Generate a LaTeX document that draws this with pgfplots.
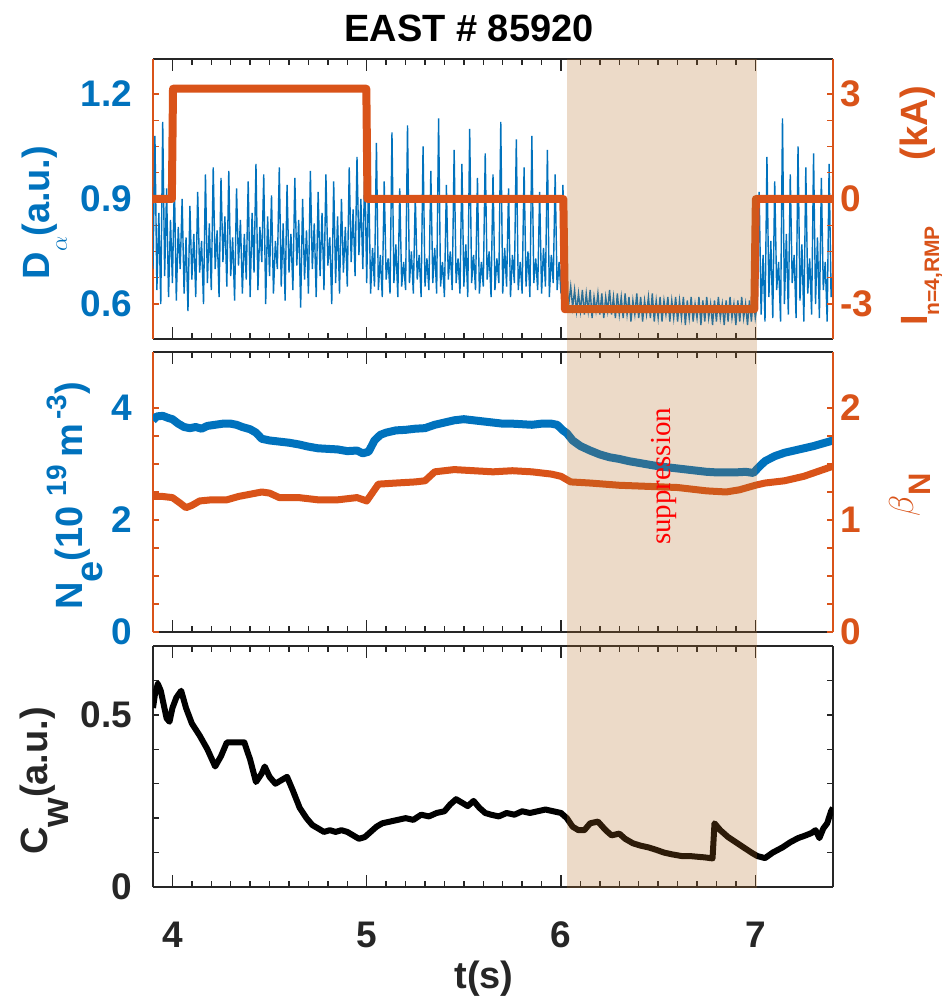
\documentclass[border=0pt]{standalone}
\usepackage{fontspec}
\setmainfont{Liberation Sans}
\newfontfamily\seriffont{Liberation Serif}
\usepackage{pgfplots}
\pgfplotsset{compat=1.18}
\definecolor{myblue}{RGB}{0,114,189}
\definecolor{myorange}{RGB}{217,83,25}
\definecolor{axgray}{RGB}{38,38,38}
\definecolor{shadecol}{RGB}{180,108,36}
\newcommand\tickfont{\fontsize{18.5}{18.5}\selectfont\bfseries}
\newcommand\labfont{\fontsize{19}{19}\selectfont\bfseries}
\pgfplotsset{
  base/.style={scale only axis, width=340pt, xmin=3.9, xmax=7.4,
    tick align=inside, /pgf/number format/assume math mode=true,
    ticklabel style={font=\tickfont}},
  xframe/.style={base, axis y line=none, axis x line=box, ymin=0, ymax=1,
    xtick={4,5,6,7}, minor x tick num=9, major tick length=6pt, minor tick length=3pt,
    x axis line style={draw=axgray, line width=1pt},
    tick style={draw=axgray, line width=0.7pt}},
  yleft/.style={base, axis x line=none, axis y line*=left, major tick length=3pt,
    minor tick length=3pt, yticklabel style={xshift=-7pt}},
  yright/.style={base, axis x line=none, axis y line*=right, major tick length=3pt,
    minor tick length=3pt},
}
\begin{document}
\begin{tikzpicture}
\useasboundingbox (-76.5pt,-56pt) rectangle (394pt,443.5pt);
% ================= TOP PANEL =================
\begin{axis}[xframe, height=140pt, at={(0,274pt)}, anchor=south west, xticklabels={}]
\end{axis}
\begin{axis}[yleft, height=140pt, at={(0,274pt)}, anchor=south west,
  ymin=0.5, ymax=1.3, ytick={0.6,0.9,1.2}, minor y tick num=3,
  y axis line style={draw=myorange, line width=1pt},
  tick style={draw=myorange, line width=0.7pt},
  yticklabel style={text=myblue}]
\addplot[myblue, line width=0.7pt] coordinates {
(3.90,0.70)(3.91,1.08)(3.92,0.64)(3.93,0.86)(3.94,0.60)(3.95,1.12)(3.96,0.68)(3.97,0.93)(3.98,0.62)(3.99,0.84)
(4.00,0.66)(4.01,0.95)(4.02,0.61)(4.03,0.82)(4.04,0.70)(4.05,0.90)(4.06,0.63)(4.07,0.79)(4.08,0.58)(4.09,0.88)
(4.10,0.67)(4.11,0.80)(4.12,0.62)(4.13,0.92)(4.14,0.69)(4.15,0.78)(4.16,0.60)(4.17,0.97)(4.18,0.66)(4.19,0.83)
(4.20,0.64)(4.21,0.99)(4.22,0.70)(4.23,0.81)(4.24,0.62)(4.25,0.96)(4.26,0.72)(4.27,0.85)(4.28,0.65)(4.29,0.98)
(4.30,0.68)(4.31,0.79)(4.32,0.61)(4.33,0.93)(4.34,0.71)(4.35,0.84)(4.36,0.63)(4.37,0.80)(4.38,0.67)(4.39,0.95)
(4.40,0.62)(4.41,0.86)(4.42,0.69)(4.43,1.00)(4.44,0.64)(4.45,0.82)(4.46,0.72)(4.47,0.97)(4.48,0.60)(4.49,0.85)
(4.50,0.68)(4.51,0.91)(4.52,0.63)(4.53,0.78)(4.54,0.70)(4.55,0.99)(4.56,0.65)(4.57,0.83)(4.58,0.61)(4.59,0.94)
(4.60,0.69)(4.61,0.80)(4.62,0.64)(4.63,0.96)(4.64,0.71)(4.65,0.84)(4.66,0.59)(4.67,0.90)(4.68,0.67)(4.69,0.81)
(4.70,0.63)(4.71,0.98)(4.72,0.70)(4.73,0.83)(4.74,0.62)(4.75,0.92)(4.76,0.68)(4.77,0.86)(4.78,0.64)(4.79,0.97)
(4.80,0.71)(4.81,0.79)(4.82,0.60)(4.83,0.95)(4.84,0.66)(4.85,0.85)(4.86,0.63)(4.87,0.90)(4.88,0.69)(4.89,0.82)
(4.90,0.65)(4.91,0.99)(4.92,0.72)(4.93,0.87)(4.94,0.68)(4.95,1.02)(4.96,0.74)(4.97,0.90)(4.98,0.70)(4.99,1.00)
(5.00,0.66)(5.01,0.97)(5.02,0.63)(5.03,0.76)(5.04,0.65)(5.05,1.06)(5.06,0.64)(5.07,0.74)(5.08,0.62)(5.09,0.95)
(5.10,0.67)(5.11,0.73)(5.12,0.63)(5.13,1.09)(5.14,0.66)(5.15,0.77)(5.16,0.62)(5.17,0.93)(5.18,0.65)(5.19,0.72)
(5.20,0.64)(5.21,1.11)(5.22,0.66)(5.23,0.75)(5.24,0.63)(5.25,0.91)(5.26,0.67)(5.27,0.74)(5.28,0.62)(5.29,1.05)
(5.30,0.65)(5.31,0.73)(5.32,0.64)(5.33,0.98)(5.34,0.66)(5.35,0.76)(5.36,0.63)(5.37,1.13)(5.38,0.65)(5.39,0.72)
(5.40,0.62)(5.41,0.94)(5.42,0.67)(5.43,0.75)(5.44,0.64)(5.45,1.04)(5.46,0.66)(5.47,0.73)(5.48,0.63)(5.49,1.00)
(5.50,0.65)(5.51,0.77)(5.52,0.62)(5.53,1.10)(5.54,0.66)(5.55,0.74)(5.56,0.64)(5.57,0.96)(5.58,0.63)(5.59,0.72)
(5.60,0.65)(5.61,1.03)(5.62,0.67)(5.63,0.75)(5.64,0.62)(5.65,0.97)(5.66,0.64)(5.67,0.73)(5.68,0.66)(5.69,1.12)
(5.70,0.63)(5.71,0.76)(5.72,0.65)(5.73,0.93)(5.74,0.62)(5.75,0.74)(5.76,0.66)(5.77,1.07)(5.78,0.64)(5.79,0.72)
(5.80,0.63)(5.81,0.99)(5.82,0.65)(5.83,0.75)(5.84,0.62)(5.85,1.08)(5.86,0.66)(5.87,0.73)(5.88,0.64)(5.89,0.92)
(5.90,0.63)(5.91,0.76)(5.92,0.65)(5.93,1.04)(5.94,0.62)(5.95,0.74)(5.96,0.66)(5.97,0.97)(5.98,0.64)(5.99,0.72)
(6.00,0.63)(6.01,0.94)(6.02,0.65)(6.03,0.64)(6.04,0.60)(6.05,0.65)(6.06,0.59)(6.07,0.64)(6.08,0.58)(6.09,0.63)
(6.10,0.58)(6.11,0.64)(6.12,0.57)(6.13,0.63)(6.14,0.58)(6.15,0.64)(6.16,0.56)(6.17,0.62)(6.18,0.58)(6.19,0.63)
(6.20,0.57)(6.21,0.63)(6.22,0.56)(6.23,0.62)(6.24,0.58)(6.25,0.64)(6.26,0.57)(6.27,0.62)(6.28,0.56)(6.29,0.63)
(6.30,0.57)(6.31,0.62)(6.32,0.56)(6.33,0.63)(6.34,0.57)(6.35,0.62)(6.36,0.55)(6.37,0.61)(6.38,0.57)(6.39,0.63)
(6.40,0.56)(6.41,0.62)(6.42,0.55)(6.43,0.61)(6.44,0.57)(6.45,0.62)(6.46,0.56)(6.47,0.63)(6.48,0.55)(6.49,0.61)
(6.50,0.56)(6.51,0.62)(6.52,0.55)(6.53,0.61)(6.54,0.57)(6.55,0.62)(6.56,0.55)(6.57,0.61)(6.58,0.56)(6.59,0.62)
(6.60,0.55)(6.61,0.61)(6.62,0.56)(6.63,0.62)(6.64,0.54)(6.65,0.61)(6.66,0.56)(6.67,0.62)(6.68,0.55)(6.69,0.60)
(6.70,0.56)(6.71,0.62)(6.72,0.54)(6.73,0.61)(6.74,0.55)(6.75,0.62)(6.76,0.56)(6.77,0.60)(6.78,0.54)(6.79,0.61)
(6.80,0.55)(6.81,0.62)(6.82,0.56)(6.83,0.60)(6.84,0.54)(6.85,0.61)(6.86,0.55)(6.87,0.62)(6.88,0.56)(6.89,0.60)
(6.90,0.54)(6.91,0.61)(6.92,0.55)(6.93,0.62)(6.94,0.56)(6.95,0.60)(6.96,0.54)(6.97,0.61)(6.98,0.55)(6.99,0.62)
(7.00,0.56)(7.01,0.60)(7.02,0.92)(7.03,0.57)(7.04,0.74)(7.05,0.55)(7.06,1.02)(7.07,0.62)(7.08,0.78)(7.09,0.56)
(7.10,0.95)(7.11,0.64)(7.12,0.72)(7.13,0.55)(7.14,1.13)(7.15,0.60)(7.16,0.80)(7.17,0.57)(7.18,0.97)(7.19,0.66)
(7.20,0.74)(7.21,0.56)(7.22,1.05)(7.23,0.61)(7.24,0.77)(7.25,0.55)(7.26,0.99)(7.27,0.63)(7.28,0.73)(7.29,0.57)
(7.30,1.03)(7.31,0.60)(7.32,0.79)(7.33,0.56)(7.34,0.96)(7.35,0.64)(7.36,0.72)(7.37,0.55)(7.38,1.00)(7.39,0.62)
(7.40,0.70)};
\coordinate (S1) at (axis cs:6.03,1.3);
\end{axis}
\begin{axis}[yright, height=140pt, at={(0,274pt)}, anchor=south west,
  ymin=-4, ymax=4, ytick={-3,0,3}, minor y tick num=3,
  y axis line style={draw=myorange, line width=1pt},
  tick style={draw=myorange, line width=0.7pt},
  yticklabel style={text=myorange}]
\addplot[myorange, line width=4pt, line join=round] coordinates {
(3.90,0)(3.997,0)(4.003,3.15)(4.998,3.15)(5.004,0)(6.012,0)(6.020,-3.15)(6.995,-3.15)(7.003,0)(7.40,0)};
\end{axis}
% ================= MIDDLE PANEL =================
\begin{axis}[xframe, height=140pt, at={(0,127.5pt)}, anchor=south west, xticklabels={}]
\end{axis}
\begin{axis}[yleft, height=140pt, at={(0,127.5pt)}, anchor=south west,
  ymin=0, ymax=5, ytick={0,2,4}, minor y tick num=3,
  y axis line style={draw=myorange, line width=1pt},
  tick style={draw=myorange, line width=0.7pt},
  yticklabel style={text=myblue}]
\addplot[myblue, line width=4pt, line join=round] coordinates {
(3.90,3.78)(3.92,3.85)(3.95,3.86)(3.98,3.82)(4.00,3.80)(4.03,3.72)(4.06,3.66)(4.09,3.64)(4.12,3.66)(4.15,3.63)
(4.18,3.68)(4.22,3.70)(4.26,3.72)(4.30,3.72)(4.33,3.70)(4.36,3.66)(4.40,3.62)(4.43,3.56)(4.46,3.45)(4.50,3.42)
(4.55,3.40)(4.60,3.38)(4.65,3.35)(4.70,3.31)(4.75,3.28)(4.80,3.27)(4.85,3.26)(4.90,3.23)(4.95,3.24)(4.98,3.19)
(5.01,3.22)(5.04,3.42)(5.07,3.52)(5.10,3.56)(5.15,3.60)(5.20,3.61)(5.25,3.63)(5.30,3.64)(5.35,3.70)(5.40,3.74)
(5.45,3.78)(5.50,3.80)(5.55,3.78)(5.60,3.76)(5.65,3.74)(5.70,3.72)(5.75,3.72)(5.80,3.71)(5.85,3.70)(5.90,3.72)
(5.95,3.72)(5.98,3.70)(6.01,3.60)(6.03,3.55)(6.06,3.42)(6.10,3.32)(6.15,3.24)(6.20,3.17)(6.25,3.12)(6.30,3.09)
(6.35,3.05)(6.40,3.02)(6.45,2.99)(6.50,2.96)(6.55,2.94)(6.60,2.92)(6.65,2.90)(6.70,2.88)(6.75,2.86)(6.80,2.85)
(6.85,2.85)(6.90,2.85)(6.95,2.86)(6.99,2.84)(7.02,2.95)(7.05,3.05)(7.10,3.14)(7.15,3.20)(7.20,3.24)(7.25,3.28)
(7.30,3.32)(7.35,3.37)(7.40,3.42)};
\coordinate (SP) at (axis cs:6.53,2.78);
\end{axis}
\begin{axis}[yright, height=140pt, at={(0,127.5pt)}, anchor=south west,
  ymin=0, ymax=2.5, ytick={0,1,2}, minor y tick num=3,
  y axis line style={draw=myorange, line width=1pt},
  tick style={draw=myorange, line width=0.7pt},
  yticklabel style={text=myorange}]
\addplot[myorange, line width=3.5pt, line join=round] coordinates {
(3.90,1.21)(3.95,1.21)(4.00,1.20)(4.04,1.15)(4.07,1.11)(4.10,1.13)(4.14,1.17)(4.20,1.18)(4.28,1.18)(4.34,1.21)
(4.40,1.23)(4.46,1.25)(4.50,1.24)(4.55,1.20)(4.65,1.20)(4.75,1.18)(4.85,1.18)(4.95,1.20)(5.00,1.17)(5.06,1.32)
(5.15,1.33)(5.25,1.34)(5.30,1.35)(5.35,1.43)(5.45,1.45)(5.55,1.44)(5.65,1.43)(5.75,1.44)(5.85,1.43)(5.95,1.41)
(6.00,1.39)(6.05,1.34)(6.15,1.33)(6.30,1.31)(6.45,1.30)(6.60,1.29)(6.75,1.26)(6.85,1.25)(6.92,1.27)(7.00,1.31)
(7.05,1.33)(7.15,1.35)(7.25,1.39)(7.35,1.45)(7.40,1.48)};
\end{axis}
% ================= BOTTOM PANEL =================
\begin{axis}[xframe, height=120.5pt, at={(0,0)}, anchor=south west,
  xticklabels={4,5,6,7},
  xticklabel style={anchor=base, yshift=-30pt, text=axgray}]
\end{axis}
\begin{axis}[base, axis x line=none, axis y line=box, height=120.5pt, at={(0,0)}, anchor=south west,
  ymin=0, ymax=0.7, ytick={0,0.5}, minor ytick={0.1,0.2,0.3,0.4,0.6},
  major tick length=3pt, minor tick length=3pt,
  y axis line style={draw=axgray, line width=1pt},
  tick style={draw=axgray, line width=0.7pt},
  yticklabel style={text=axgray, xshift=-7pt}]
\addplot[black, line width=3pt, line join=round] coordinates {
(3.90,0.52)(3.91,0.56)(3.925,0.59)(3.94,0.57)(3.955,0.53)(3.97,0.49)(3.985,0.48)(4.00,0.52)(4.02,0.55)(4.045,0.57)
(4.07,0.52)(4.10,0.475)(4.14,0.44)(4.18,0.40)(4.22,0.35)(4.25,0.38)(4.28,0.42)(4.32,0.42)(4.37,0.42)(4.40,0.37)
(4.43,0.305)(4.46,0.33)(4.475,0.35)(4.50,0.32)(4.53,0.30)(4.56,0.31)(4.59,0.32)(4.62,0.28)(4.655,0.23)(4.69,0.20)
(4.72,0.18)(4.75,0.17)(4.78,0.16)(4.81,0.165)(4.84,0.16)(4.87,0.165)(4.90,0.16)(4.93,0.15)(4.96,0.14)(4.99,0.145)
(5.02,0.16)(5.05,0.175)(5.08,0.185)(5.12,0.19)(5.16,0.195)(5.20,0.20)(5.24,0.195)(5.28,0.21)(5.32,0.205)(5.36,0.215)
(5.40,0.22)(5.43,0.24)(5.46,0.255)(5.49,0.245)(5.52,0.235)(5.55,0.25)(5.58,0.23)(5.61,0.215)(5.64,0.21)(5.68,0.205)
(5.72,0.215)(5.76,0.21)(5.80,0.22)(5.84,0.215)(5.88,0.22)(5.92,0.225)(5.96,0.22)(6.00,0.215)(6.03,0.20)(6.06,0.175)
(6.09,0.165)(6.12,0.165)(6.15,0.185)(6.19,0.19)(6.23,0.165)(6.26,0.15)(6.30,0.155)(6.33,0.14)(6.37,0.127)(6.41,0.12)
(6.45,0.115)(6.49,0.108)(6.53,0.10)(6.57,0.095)(6.62,0.09)(6.66,0.09)(6.70,0.088)(6.74,0.086)(6.78,0.083)(6.79,0.185)
(6.82,0.165)(6.86,0.145)(6.90,0.13)(6.94,0.115)(6.98,0.10)(7.01,0.09)(7.05,0.084)(7.09,0.10)(7.14,0.115)(7.18,0.13)
(7.22,0.142)(7.26,0.15)(7.29,0.157)(7.31,0.165)(7.33,0.142)(7.35,0.17)(7.37,0.185)(7.39,0.22)(7.40,0.23)};
\coordinate (S2) at (axis cs:7.01,-0.004);
\end{axis}
% ================= shading, annotations, labels =================
\fill[shadecol, opacity=0.25] (S1) rectangle (S2);
\node[rotate=90, text=red, font=\seriffont\fontsize{14.5}{14.5}\selectfont] at (SP) {suppression};
\node[anchor=base, text=black, font=\fontsize{19}{19}\selectfont\bfseries] at (158pt,422.5pt) {EAST \# 85920};
\node[anchor=base, text=axgray, font=\labfont] at (165.5pt,-50.5pt) {t(s)};
\node[rotate=90, anchor=base, text=myblue, font=\labfont] at (-51.5pt,337.25pt)
  {D\raisebox{-8.5pt}{\fontsize{13}{13}\selectfont$\alpha$}(a.u.)};
\node[rotate=90, anchor=base, text=myorange, font=\labfont] at (387pt,340.5pt)
  {I\raisebox{-6pt}{\fontsize{10.5}{10.5}\selectfont n=4,RMP}\hspace{33pt}(kA)};
\node[rotate=90, anchor=base, text=myblue, font=\labfont] at (-35pt,195.5pt)
  {N\raisebox{-10pt}{e}(10\hspace{5pt}\raisebox{8pt}{\fontsize{14}{14}\selectfont 19}\hspace{4pt}m\hspace{2pt}\raisebox{8pt}{\fontsize{14}{14}\selectfont -3})};
\node[rotate=90, anchor=base, text=myorange, font=\labfont] at (380pt,196pt)
  {\fontsize{18.5}{18.5}\selectfont$\beta$\raisebox{-8.5pt}{\fontsize{15.5}{15.5}\selectfont N}};
\node[rotate=90, anchor=base, text=axgray, font=\labfont] at (-52.5pt,53pt)
  {C\raisebox{-10pt}{w}(a.u.)};
\end{tikzpicture}
\end{document}
